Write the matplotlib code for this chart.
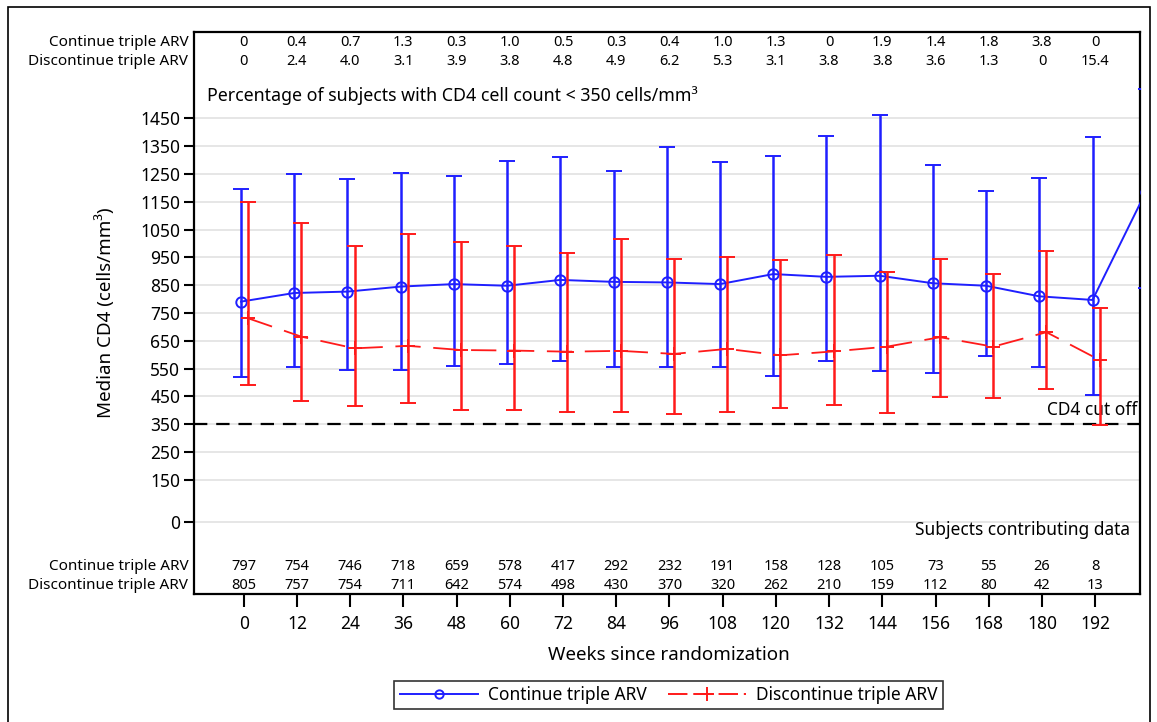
import matplotlib.pyplot as plt
import matplotlib.transforms as mtransforms
from matplotlib.lines import Line2D
from matplotlib.patches import Rectangle

plt.rcParams['font.family'] = ['Noto Sans', 'DejaVu Sans']

# Weeks shown on the axis / in the tables
weeks = [0, 12, 24, 36, 48, 60, 72, 84, 96, 108, 120, 132, 144, 156, 168, 180, 192]

# Continue triple ARV (last point lies past the axis edge and is clipped)
cont_weeks = weeks + [204]
cont_median = [791, 822, 827, 845, 854, 848, 869, 862, 860, 854, 890, 880, 884, 857, 848, 810, 797, 1185]
cont_low = [519, 557, 544, 545, 560, 567, 578, 557, 555, 557, 523, 579, 542, 533, 597, 555, 457, 841]
cont_high = [1196, 1250, 1233, 1255, 1243, 1298, 1310, 1262, 1348, 1292, 1316, 1388, 1462, 1282, 1189, 1234, 1382, 1554]

# Discontinue triple ARV
disc_median = [731, 665, 623, 632, 617, 615, 611, 614, 603, 621, 598, 612, 629, 663, 629, 681, 581]
disc_low = [490, 435, 417, 428, 401, 401, 393, 393, 387, 395, 408, 421, 390, 449, 443, 476, 348]
disc_high = [1149, 1073, 992, 1033, 1006, 992, 967, 1016, 945, 951, 942, 960, 896, 944, 890, 972, 767]

# Percentage of subjects with CD4 < 350
pct_cont = ['0', '0.4', '0.7', '1.3', '0.3', '1.0', '0.5', '0.3', '0.4', '1.0', '1.3', '0', '1.9', '1.4', '1.8', '3.8', '0']
pct_disc = ['0', '2.4', '4.0', '3.1', '3.9', '3.8', '4.8', '4.9', '6.2', '5.3', '3.1', '3.8', '3.8', '3.6', '1.3', '0', '15.4']

# Subjects contributing data
n_cont = [797, 754, 746, 718, 659, 578, 417, 292, 232, 191, 158, 128, 105, 73, 55, 26, 8]
n_disc = [805, 757, 754, 711, 642, 574, 498, 430, 370, 320, 262, 210, 159, 112, 80, 42, 13]

row_labels = ['Continue triple ARV', 'Discontinue triple ARV']
y_ticks = [0, 150, 250, 350, 450, 550, 650, 750, 850, 950, 1050, 1150, 1250, 1350, 1450]
cutoff = 350

BLUE = '#1f1fff'
RED = '#ff1a1a'

fig = plt.figure(figsize=(11.57, 7.22), dpi=100)
ax = fig.add_axes([0.1677, 0.1773, 0.8180, 0.7787])

# small horizontal offsets so the two groups do not overlap
xb = [w - 0.6 for w in cont_weeks]
xr = [w + 1.0 for w in weeks]

ax.axhline(cutoff, color='black', lw=1.6, ls=(0, (6, 4)), zorder=2)

ax.errorbar(xb, cont_median,
            yerr=[[m - l for m, l in zip(cont_median, cont_low)],
                  [h - m for m, h in zip(cont_median, cont_high)]],
            color=BLUE, lw=1.4, elinewidth=1.8, capsize=5.5, capthick=1.8,
            marker='o', ms=7.5, mfc='none', mew=1.4, zorder=3)
ax.errorbar(xr, disc_median,
            yerr=[[m - l for m, l in zip(disc_median, disc_low)],
                  [h - m for m, h in zip(disc_median, disc_high)]],
            color=RED, lw=1.3, ls=(0, (14, 7)), elinewidth=1.8, capsize=5.5,
            capthick=1.8, marker='+', ms=10, mew=1.4, zorder=4)

ax.set_xlim(-11.2, 202.2)
ax.set_ylim(-260, 1761)
ax.set_xticks(weeks)
ax.set_yticks(y_ticks)
ax.yaxis.grid(True, color='#e4e4e4', lw=1.3)
ax.set_axisbelow(True)

for s in ax.spines.values():
    s.set_linewidth(1.6)
ax.tick_params(axis='x', length=9, width=1.5, labelsize=12.5, pad=6)
ax.tick_params(axis='y', length=7, width=1.5, labelsize=12.5, pad=3)

ax.set_ylabel('Median CD4 (cells/mm³)', fontsize=13.5)
ax.yaxis.set_label_coords(-0.084, 0.5)
ax.set_xlabel('Weeks since randomization', fontsize=13.5)
ax.xaxis.set_label_coords(0.502, -0.093)

trans = mtransforms.blended_transform_factory(ax.transData, ax.transAxes)

# top table: percentage of subjects below the cut-off
for row_y, vals in zip([0.981, 0.948], [pct_cont, pct_disc]):
    for w, v in zip(weeks, vals):
        ax.text(w, row_y, v, transform=trans, ha='center', va='center', fontsize=10.5)
# bottom table: subjects contributing data
for row_y, vals in zip([0.049, 0.015], [n_cont, n_disc]):
    for w, v in zip(weeks, vals):
        ax.text(w, row_y, str(v), transform=trans, ha='center', va='center', fontsize=10.5)

for row_y, lab in zip([0.981, 0.948, 0.049, 0.015], row_labels * 2):
    ax.text(-0.006, row_y, lab, transform=ax.transAxes, ha='right', va='center',
            fontsize=11, clip_on=False)

ax.text(0.014, 0.886, 'Percentage of subjects with CD4 cell count < 350 cells/mm³',
        transform=ax.transAxes, ha='left', va='center', fontsize=12.8)
ax.text(0.989, 0.114, 'Subjects contributing data', transform=ax.transAxes,
        ha='right', va='center', fontsize=12.5)
ax.text(201.4, cutoff + 50, 'CD4 cut off', ha='right', va='center', fontsize=12.5)

handles = [
    Line2D([], [], color=BLUE, lw=1.4, marker='o', ms=6, mfc='none', mew=1.4),
    Line2D([], [], color=RED, lw=1.4, ls=(0, (10, 3)), marker='+', ms=10, mew=1.4),
]
leg = fig.legend(handles, row_labels, loc='center', bbox_to_anchor=(0.578, 0.0377),
                 ncol=2, fontsize=12.5, frameon=True, fancybox=False,
                 handlelength=4.5, columnspacing=1.2, borderpad=0.3,
                 handletextpad=0.6)
leg.get_frame().set_edgecolor('black')
leg.get_frame().set_linewidth(1.2)

# outer border of the figure panel
fig.patches.append(Rectangle((8 / 1157, -0.05), 1142 / 1157, 1.04, transform=fig.transFigure,
                             fill=False, ec='black', lw=1.2))

fig.savefig('out.png', dpi=100)
